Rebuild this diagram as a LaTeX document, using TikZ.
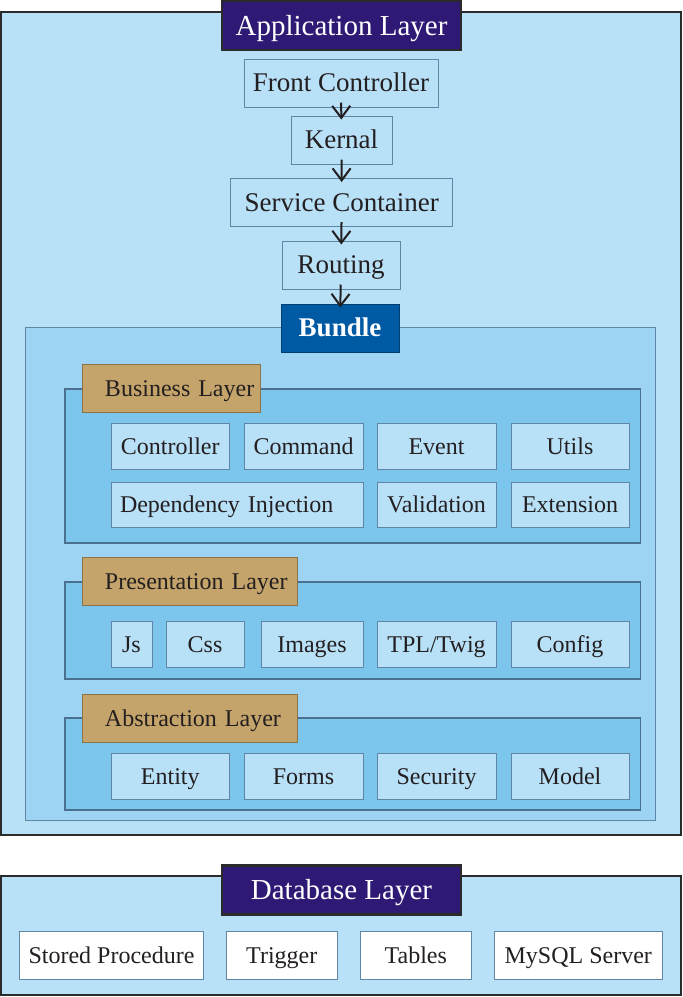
\documentclass[tikz,border=0pt]{standalone}
\usepackage{fontspec}
\setmainfont{Liberation Serif}
\usepackage{xcolor}
\usetikzlibrary{arrows.meta, positioning}

\definecolor{applight}{HTML}{B8E0F7}
\definecolor{bundlebg}{HTML}{9DD4F4}
\definecolor{layerbg}{HTML}{7CC6EE}
\definecolor{itemline}{HTML}{5F87A5}
\definecolor{layerline}{HTML}{4C7090}
\definecolor{titlepurple}{HTML}{2E1A75}
\definecolor{bundleblue}{HTML}{0059A3}
\definecolor{tagtan}{HTML}{C4A46A}
\definecolor{tagline}{HTML}{8C7345}
\definecolor{textdark}{HTML}{231F20}
\definecolor{frameline}{HTML}{2B2B2B}

\begin{document}
\begin{tikzpicture}[x=0.5pt, y=-0.5pt, >={Straight Barb[length=6pt, width=9pt]}]
    % Styles
    \tikzstyle{frame} = [rectangle, draw=frameline, line width=1.3pt, fill=applight, inner sep=0pt, minimum width=340pt]
    \tikzstyle{title} = [rectangle, draw=frameline, line width=1.1pt, fill=titlepurple, text=white, inner sep=0pt, minimum width=119.5pt, minimum height=24.5pt, text height=10.6pt, text depth=1pt, font=\fontsize{14.5}{17}\selectfont]
    \tikzstyle{flow} = [rectangle, draw=itemline, line width=0.5pt, fill=applight, text=textdark, inner sep=0pt, minimum height=24pt, text height=10pt, text depth=1.1pt, font=\fontsize{13.5}{16}\selectfont]
    \tikzstyle{bundlehead} = [rectangle, draw=bundleblue!70!black, line width=0.5pt, fill=bundleblue, text=white, inner sep=0pt, minimum width=59pt, minimum height=24pt, text height=10pt, text depth=1.1pt, font=\fontsize{13.5}{16}\selectfont\bfseries]
    \tikzstyle{bundlebox} = [rectangle, draw=itemline, line width=0.5pt, fill=bundlebg, inner sep=0pt, minimum width=315pt, minimum height=246.5pt]
    \tikzstyle{layerbox} = [rectangle, draw=layerline, line width=0.6pt, fill=layerbg, inner sep=0pt, minimum width=287.75pt]
    \tikzstyle{tag} = [rectangle, draw=tagline, line width=0.5pt, fill=tagtan, text=textdark, inner sep=0pt, minimum height=24pt, align=left, text height=9pt, text depth=1pt, font=\fontsize{12}{14}\selectfont, execute at begin node=\hspace*{11.5pt}]
    \tikzstyle{item} = [rectangle, draw=itemline, line width=0.5pt, fill=applight, text=textdark, inner sep=0pt, minimum height=23pt, text height=9pt, text depth=1pt, font=\fontsize{12}{14}\selectfont]
    \tikzstyle{dbitem} = [item, fill=white, minimum height=24pt]
    \tikzstyle{line} = [draw=textdark, ->, line width=1pt, shorten <=-2.5pt, shorten >=-2pt]

    \useasboundingbox (0,0) rectangle (682,997);

    % Application layer
    \node[frame, minimum height=411.5pt] (app) at (341,423.5) {};
    \node[title] (apptitle) at (341.5,25.5) {Application Layer};
    \node[flow, minimum width=97pt] (front) at (341,83) {Front Controller};
    \node[flow, minimum width=50.5pt] (kernal) at (341.5,140) {Kernal};
    \node[flow, minimum width=111pt] (service) at (341.75,202.5) {Service Container};
    \node[flow, minimum width=59pt] (routing) at (341,265) {Routing};

    % Bundle
    \node[bundlebox] (bundle) at (340,573.5) {};
    \node[bundlehead] (bundletitle) at (340,328) {Bundle};

    % Business layer
    \node[layerbox, minimum height=77pt] (business) at (352.75,466) {};
    \node[tag, text width=89.25pt] (businesstag) at (171.25,388.5) {Business Layer};
    \node[item, minimum width=59.3pt] (controller) at (170.3,446) {Controller};
    \node[item, minimum width=59.5pt] (command) at (303.5,446) {Command};
    \node[item, minimum width=59.5pt] (event) at (436.5,446) {Event};
    \node[item, minimum width=59pt] (utils) at (570,446) {Utils};
    \node[item, minimum height=22.5pt, inner xsep=4.5pt, text width=117pt, align=left] (injection) at (237,504.5) {Dependency Injection};
    \node[item, minimum width=59.5pt, minimum height=22.5pt] (validation) at (436.5,504.5) {Validation};
    \node[item, minimum width=59pt, minimum height=22.5pt] (extension) at (570,504.5) {Extension};

    % Presentation layer
    \node[layerbox, minimum height=48.5pt] (presentation) at (352.75,630.5) {};
    \node[tag, text width=107.75pt] (presentationtag) at (189.75,581) {Presentation Layer};
    \node[item, minimum width=20.5pt] (js) at (131.5,644) {Js};
    \node[item, minimum width=39pt] (css) at (205,644) {Css};
    \node[item, minimum width=51pt] (images) at (312,644) {Images};
    \node[item, minimum width=59.5pt] (twig) at (436.5,644) {TPL/Twig};
    \node[item, minimum width=59pt] (config) at (570,644) {Config};

    % Abstraction layer
    \node[layerbox, minimum height=46pt] (abstraction) at (352.75,764) {};
    \node[tag, text width=107.75pt] (abstractiontag) at (189.75,718) {Abstraction Layer};
    \node[item, minimum width=59.3pt] (entity) at (170.3,776) {Entity};
    \node[item, minimum width=59.5pt] (forms) at (303.5,776) {Forms};
    \node[item, minimum width=59.5pt] (security) at (436.5,776) {Security};
    \node[item, minimum width=59pt] (model) at (570,776) {Model};

    % Database layer
    \node[frame, minimum height=59.5pt] (db) at (341,935.5) {};
    \node[title] (dbtitle) at (341.5,890) {Database Layer};
    \node[dbitem, minimum width=92pt] (procedure) at (111.5,955) {Stored Procedure};
    \node[dbitem, minimum width=55.25pt] (trigger) at (281.75,955) {Trigger};
    \node[dbitem, minimum width=55.25pt] (tables) at (415.75,955) {Tables};
    \node[dbitem, minimum width=83.75pt] (mysql) at (578.25,955) {MySQL Server};

    % Edges
    \draw [line] (front) -- (kernal);
    \draw [line] (kernal) -- (service);
    \draw [line] (service) -- (routing);
    \draw [line] (routing) -- (bundletitle);
\end{tikzpicture}
\end{document}
